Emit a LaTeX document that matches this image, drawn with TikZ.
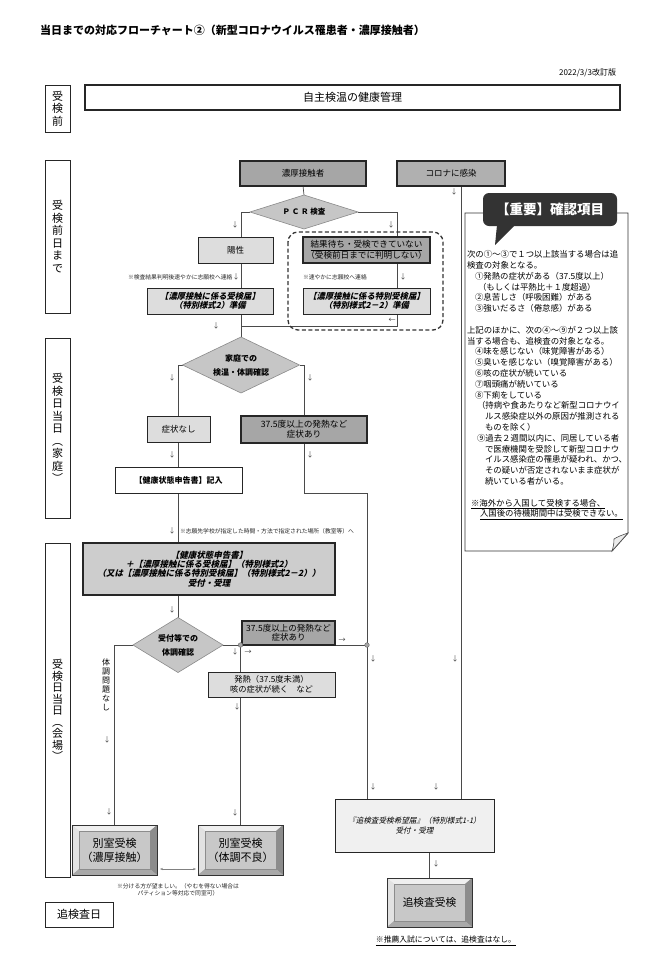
\documentclass[tikz,border=0pt]{standalone}
\usepackage{fontspec}
\setmainfont{Noto Sans CJK JP}
\newfontfamily\jpit[FakeSlant=0.22]{Noto Sans CJK JP}
\usetikzlibrary{shapes.geometric,arrows.meta,calc}
\pgfdeclarelayer{bg}
\pgfsetlayers{bg,main}
\definecolor{darkfill}{HTML}{A6A6A6}
\definecolor{darkfilltwo}{HTML}{B0B0B0}
\definecolor{lightfill}{HTML}{DDDDDD}
\definecolor{midfill}{HTML}{CDCDCD}
\definecolor{vlightfill}{HTML}{F0F0F0}
\definecolor{diafill}{HTML}{C6C6C6}
\definecolor{diaborder}{HTML}{8A8A8A}
\definecolor{boxline}{HTML}{262626}
\definecolor{linec}{HTML}{4A4A4A}
\definecolor{bubblec}{HTML}{333333}
\definecolor{bevface}{HTML}{C8C8C8}
\definecolor{bevtop}{HTML}{EFEFEF}
\definecolor{bevleft}{HTML}{E2E2E2}
\definecolor{bevright}{HTML}{8C8C8C}
\definecolor{bevbottom}{HTML}{A9A9A9}
\newcommand{\fsz}[2]{\fontsize{#1}{#2}\selectfont}
\begin{document}
\begin{tikzpicture}[x=1pt,y=-1pt,
  every node/.style={inner sep=0pt,outer sep=0pt},
  flow/.style={draw=linec,line width=0.7pt},
  box/.style={draw=boxline,line width=1pt,align=center,font=\fsz{8.5}{10}},
  darkbox/.style={box,fill=darkfill,line width=1.3pt},
  lightbox/.style={box,fill=lightfill},
  dia/.style={diamond,draw=diaborder,fill=diafill,line width=0.6pt,align=center},
  lbl/.style={draw=black!85,line width=1pt,align=center,font=\fsz{11}{12.5}},
  mk/.style={font=\fsz{7}{8},text=black!75},
  note/.style={font=\fsz{5.8}{7},text=black!85},
  dashc/.style={draw=black!80,line width=1.3pt,dash pattern=on 4pt off 2.5pt,rounded corners=10pt},
  bevel/.style={draw=black!80,line width=0.6pt,fill=bevface,align=center,font=\fsz{11}{14},
    path picture={
      \fill[bevtop] (path picture bounding box.north west) -- (path picture bounding box.north east) -- ([xshift=-7pt,yshift=-6pt]path picture bounding box.north east) -- ([xshift=7pt,yshift=-6pt]path picture bounding box.north west) -- cycle;
      \fill[bevleft] (path picture bounding box.north west) -- ([xshift=7pt,yshift=-6pt]path picture bounding box.north west) -- ([xshift=7pt,yshift=6pt]path picture bounding box.south west) -- (path picture bounding box.south west) -- cycle;
      \fill[bevright] (path picture bounding box.north east) -- ([xshift=-7pt,yshift=-6pt]path picture bounding box.north east) -- ([xshift=-7pt,yshift=6pt]path picture bounding box.south east) -- (path picture bounding box.south east) -- cycle;
      \fill[bevbottom] (path picture bounding box.south west) -- ([xshift=7pt,yshift=6pt]path picture bounding box.south west) -- ([xshift=-7pt,yshift=6pt]path picture bounding box.south east) -- (path picture bounding box.south east) -- cycle;
      \draw[black!45,line width=0.4pt] ([xshift=7pt,yshift=-6pt]path picture bounding box.north west) rectangle ([xshift=-7pt,yshift=6pt]path picture bounding box.south east);
    }}
]
\useasboundingbox (0,0) rectangle (647,964);

% header
\node[anchor=west,font=\bfseries\fsz{11}{13}] (title) at (40,30) {当日までの対応フローチャート②（新型コロナウイルス罹患者・濃厚接触者）};
\node[anchor=east,font=\fsz{8}{10}] (date) at (616,73) {2022/3/3改訂版};

% stage labels
\node[lbl,minimum width=25pt,minimum height=47pt] (L0) at (57.5,108.5) {受\\検\\前};
\node[box,fill=white,line width=1.3pt,minimum width=535pt,minimum height=25pt,font=\fsz{11}{13}] (self) at (352.5,97.5) {自主検温の健康管理};
\node[lbl,minimum width=25pt,minimum height=153pt] (L1) at (57.5,236.5) {受\\検\\前\\日\\ま\\で};
\node[lbl,minimum width=25pt,minimum height=180pt] (L2) at (57.5,428) {受\\検\\日\\当\\日\\︵\\家\\庭\\︶};
\node[lbl,minimum width=25pt,minimum height=334pt,font=\fsz{11}{11.5}] (L3) at (57.5,710) {受\\検\\日\\当\\日\\︵\\会\\場\\︶};
\node[lbl,minimum width=68pt,minimum height=25pt] (L4) at (79,914.5) {追検査日};

% day before
\node[darkbox,minimum width=126pt,minimum height=25pt] (nc) at (303,173.5) {濃厚接触者};
\node[darkbox,fill=darkfilltwo,minimum width=108pt,minimum height=25pt] (covid) at (451,173.5) {コロナに感染};
\node[dia,minimum width=108pt,minimum height=34pt,aspect=3.2,font=\bfseries\fsz{7.5}{9}] (pcr) at (304,212) {Ｐ Ｃ Ｒ 検査};
\node[lightbox,minimum width=75pt,minimum height=26pt] (yousei) at (235.5,250) {陽性};
\node[darkbox,minimum width=127pt,minimum height=26pt,font=\fsz{8.6}{10}] (wait) at (366.5,250) {\underline{結果待ち・受検できていない}\\（受検前日までに判明しない）};
\node[lightbox,minimum width=126pt,minimum height=26pt,font=\jpit\bfseries\fsz{8.3}{9.5}] (todoke) at (210,301) {【濃厚接触に係る受検届】\\（特別様式2）準備};
\node[lightbox,minimum width=127pt,minimum height=26pt,font=\jpit\bfseries\fsz{8.3}{9.5}] (tokubetsu) at (366.5,301) {【濃厚接触に係る特別受検届】\\（特別様式2－2）準備};
\draw[dashc] (288,232) rectangle (443,330);

% home
\node[dia,minimum width=117pt,minimum height=56pt,aspect=2.1,font=\bfseries\fsz{8}{14}] (home) at (241,365) {家庭での\\検温・体調確認};
\node[lightbox,minimum width=63pt,minimum height=26pt] (nasi) at (178.5,429) {症状なし};
\node[darkbox,minimum width=126pt,minimum height=27pt,font=\fsz{8.7}{10}] (ari1) at (304,429.5) {37.5度以上の発熱など\\症状あり};
\node[box,fill=white,minimum width=127pt,minimum height=26pt,font=\bfseries\fsz{8}{10}] (kinyu) at (178.5,480) {【健康状態申告書】記入};

% venue
\node[box,fill=midfill,line width=1.3pt,minimum width=252pt,minimum height=52pt,font=\jpit\bfseries\fsz{8.5}{9.3}] (big) at (209,569) {【健康状態申告書】\\＋【濃厚接触に係る受検届】（特別様式2）\\（又は【濃厚接触に係る特別受検届】（特別様式2－2））\\受付・受理};
\node[dia,minimum width=90pt,minimum height=55pt,aspect=1.64,font=\bfseries\fsz{8}{14}] (venue) at (178,645) {受付等での\\体調確認};
\node[darkbox,minimum width=93pt,minimum height=24pt,font=\fsz{8.5}{9.5}] (ari2) at (288.5,633) {37.5度以上の発熱など\\症状あり};
\node[lightbox,minimum width=127pt,minimum height=25pt,font=\fsz{8.3}{9.8}] (fever) at (271.5,684.5) {発熱（37.5度未満）\\咳の症状が続く　など};
\node[font=\fsz{8}{9},align=center] (okay) at (106,685) {体\\調\\問\\題\\な\\し};
\node[bevel,minimum width=85pt,minimum height=50pt] (betsu1) at (114.5,850) {別室受検\\（濃厚接触）};
\node[bevel,minimum width=85pt,minimum height=50pt] (betsu2) at (240.5,850) {別室受検\\（体調不良）};
\node[lightbox,fill=vlightfill,minimum width=159pt,minimum height=53pt,font=\jpit\fsz{7.6}{10}] (tsui) at (414.5,825.5) {『追検査受検希望届』（特別様式1-1）\\受付・受理};
\node[bevel,minimum width=85pt,minimum height=49pt,font=\fsz{10.7}{13}] (tsuibtn) at (429.5,902.5) {追検査受検};

% notes
\node[note,anchor=west] (n1) at (128,277) {※検査結果判明後速やかに志願校へ連絡};
\node[note,anchor=west] (n2) at (303,277) {※速やかに志願校へ連絡};
\node[note,anchor=west] (n3) at (180,531) {※志願先学校が指定した時間・方法で指定された場所（教室等）へ};
\node[note,align=center] (n4) at (178,889.5) {※分ける方が望ましい。（やむを得ない場合は\\パティション等対応で同室可）};
\node[font=\fsz{7.8}{9}] (n5) at (446,941) {\underline{※推薦入試については、追検査はなし。}};

% important box
\draw[black!80,line width=0.9pt,fill=white] (465,213) -- (628,213) -- (628,533) -- (612,551) -- (465,551) -- cycle;
\filldraw[fill=black!8,draw=black!70,line width=0.6pt] (628,533) .. controls (622,535) and (617,537) .. (614,539) .. controls (614,544) and (613,548) .. (612,551) -- cycle;
\node[fill=bubblec,rounded corners=6pt,minimum width=134pt,minimum height=33pt,text=white,font=\bfseries\fsz{13.5}{15}] (imp) at (550,209.5) {【重要】確認項目};
\fill[bubblec] ([xshift=14pt,yshift=1pt]imp.south west) -- (495,245) -- ([xshift=32pt,yshift=1pt]imp.south west) -- cycle;
\node[anchor=north west,align=left,font=\fsz{8.4}{10.8}] (notetxt) at (467,250.5) {次の①～③で１つ以上該当する場合は追\\
検査の対象となる。\\
\hspace*{8pt}①発熱の症状がある（37.5度以上）\\
\hspace*{11pt}（もしくは平熱比＋１度超過）\\
\hspace*{8pt}②息苦しさ（呼吸困難）がある\\
\hspace*{8pt}③強いだるさ（倦怠感）がある\\[10.8pt]
上記のほかに、次の④～⑨が２つ以上該\\
当する場合も、追検査の対象となる。\\
\hspace*{8pt}④味を感じない（味覚障害がある）\\
\hspace*{8pt}⑤臭いを感じない（嗅覚障害がある）\\
\hspace*{8pt}⑥咳の症状が続いている\\
\hspace*{8pt}⑦咽頭痛が続いている\\
\hspace*{8pt}⑧下痢をしている\\
\hspace*{10pt}（持病や食あたりなど新型コロナウイ\\
\hspace*{18pt}ルス感染症以外の原因が推測される\\
\hspace*{18pt}ものを除く）\\
\hspace*{10pt}⑨過去２週間以内に、同居している者\\
\hspace*{18pt}で医療機関を受診して新型コロナウ\\
\hspace*{18pt}イルス感染症の罹患が疑われ、かつ、\\
\hspace*{18pt}その疑いが否定されないまま症状が\\
\hspace*{18pt}続いている者がいる。\\[10.8pt]
\hspace*{4pt}\underline{※海外から入国して受検する場合、}\\
\hspace*{13pt}\underline{入国後の待機期間中は受検できない。}};

% arrow marks
\node[mk] (m1) at (235,225) {↓};
\node[mk] (m2) at (391,225) {↓};
\node[mk] (m3) at (454,192) {↓};
\node[mk] (m4) at (236,277) {↓};
\node[mk] (m5) at (403,277) {↓};
\node[mk] (m6) at (216,326) {↓};
\node[mk] (m7) at (392,320) {←};
\node[mk] (m8) at (172,378) {↓};
\node[mk] (m9) at (310,378) {↓};
\node[mk] (m10) at (172,455) {↓};
\node[mk] (m11) at (310,455) {↓};
\node[mk] (m12) at (172,531) {↓};
\node[mk] (m13) at (172,610) {↓};
\node[mk] (m14) at (235,652) {↓};
\node[mk] (m15) at (248,652) {→};
\node[mk] (m16) at (342,640) {→};
\node[mk] (m17) at (373,659) {↓};
\node[mk] (m18) at (455,659) {↓};
\node[mk] (m19) at (237,707) {↓};
\node[mk] (m20) at (107,740) {↓};
\node[mk] (m21) at (109,812) {↓};
\node[mk] (m22) at (235,813) {↓};
\node[mk] (m23) at (373,787) {↓};
\node[mk] (m24) at (436,787) {↓};
\node[mk] (m25) at (436,864) {↓};

% connectors
\begin{pgfonlayer}{bg}
\fill[white] (0,0) rectangle (647,964);
\draw[flow] (nc.south) -- (pcr.north);
\draw[flow] (pcr.west) -| (home.north);
\coordinate (rj) at (397,326);
\draw[flow] (pcr.east) -| (rj) -- (rj -| home.north);
\coordinate (cv) at (461,186);
\draw[flow] (cv) -- (cv |- tsui.north);
\draw[flow] (home.west) -| (venue.north);
\draw[flow] (home.east) -| (ari1.north);
\coordinate (turn) at (367,493);
\draw[flow] (ari1.south) |- (turn) -- (turn |- tsui.north);
\draw[flow] (venue.west) -| (betsu1.north);
\coordinate (j2) at (venue.east -| turn);
\draw[flow] (venue.east) -- (j2);
\coordinate (j1) at (venue.east -| betsu2.north);
\draw[flow] (j1) -- (betsu2.north);
\draw[flow] (tsui.south -| tsuibtn.north) -- (tsuibtn.north);
\end{pgfonlayer}
\filldraw[fill=black!35,draw=black!60,line width=0.4pt] (j1) circle (2.3pt);
\filldraw[fill=black!35,draw=black!60,line width=0.4pt] (j2) circle (2.3pt);
\draw[{Stealth[length=3pt]}-{Stealth[length=3pt]},black!50,line width=0.5pt] ([xshift=3pt,yshift=-19pt]betsu1.east) -- ([xshift=-2pt,yshift=-19pt]betsu2.west);
\end{tikzpicture}
\end{document}
